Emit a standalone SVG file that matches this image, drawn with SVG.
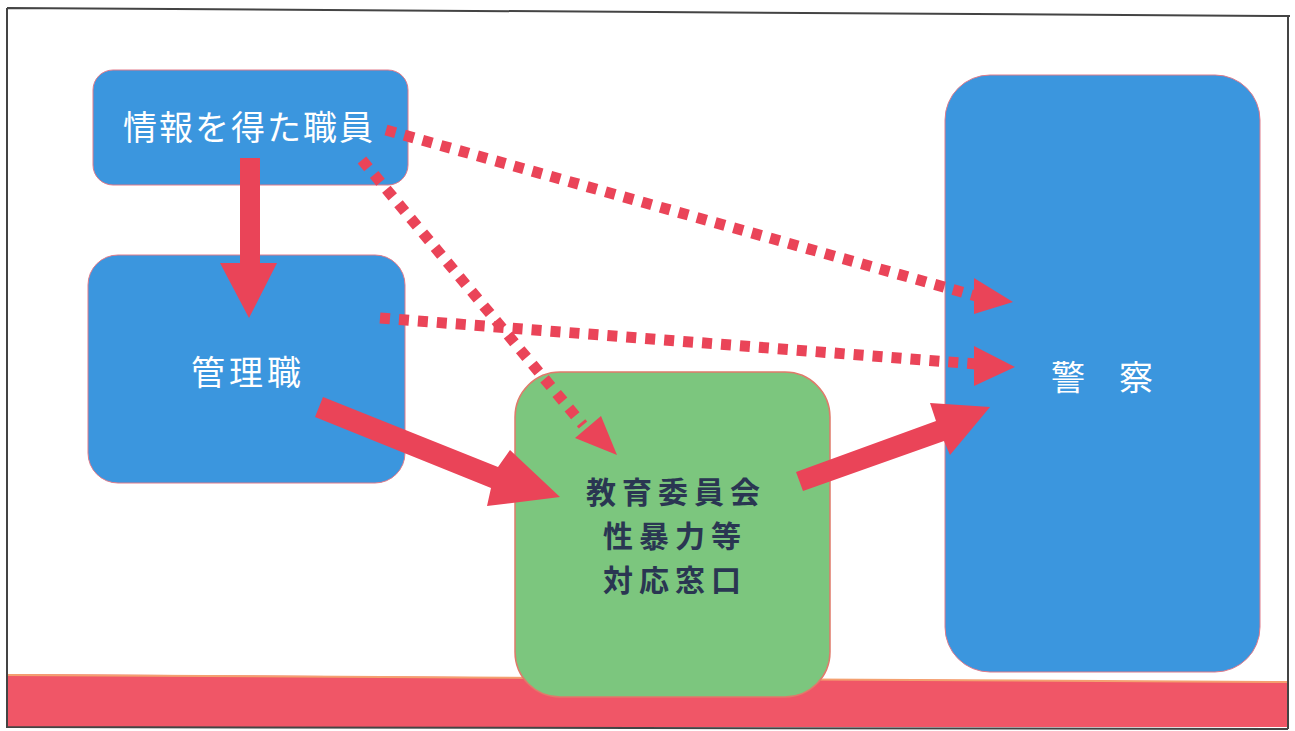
<svg xmlns="http://www.w3.org/2000/svg" width="1295" height="731" viewBox="0 0 1295 731">
<style>
.blue{fill:#3b96de;stroke:#e07a8a;stroke-width:1}
.green{fill:#7cc67e;stroke:#e07a6a;stroke-width:1.5}
.wt{font-family:"Noto Sans CJK JP",sans-serif;fill:#fff;font-size:34px;text-anchor:middle}
.gt{font-family:"Noto Sans CJK JP",sans-serif;fill:#2a3652;font-size:30px;font-weight:bold;text-anchor:middle;letter-spacing:6px}
.solid{fill:#ea4458}
.dot{stroke:#ea4458;stroke-width:11;fill:none;stroke-dasharray:10 9}
</style>
<rect width="1295" height="731" fill="#fff"/>
<polygon points="7,674 1288,682 1288,727 7,727" fill="#f05667"/>
<line x1="7" y1="675" x2="1288" y2="682" stroke="#f4a070" stroke-width="2"/>
<path d="M7,8 L1290,16 M7,8 L7,727 L1288,729 M1288,16 L1288,729" stroke="#444" stroke-width="2" fill="none"/>
<g id="node-staff">
<rect class="blue" x="93" y="70" width="315" height="115" rx="20"/>
<text class="wt" x="249" y="140" letter-spacing="2">情報を得た職員</text>
</g>
<g id="node-manager">
<rect class="blue" x="88" y="255" width="317" height="228" rx="30"/>
<text class="wt" x="248" y="385" letter-spacing="4">管理職</text>
</g>
<g id="node-police">
<rect class="blue" x="945" y="75" width="315" height="597" rx="45"/>
<text class="wt" x="1102" y="390">警　察</text>
</g>
<g id="node-board">
<rect class="green" x="515" y="372" width="315" height="325" rx="45"/>
<text class="gt" x="676" y="503">教育委員会</text>
<text class="gt" x="675" y="547">性暴力等</text>
<text class="gt" x="675" y="591">対応窓口</text>
</g>
<g id="connectors">
<polygon class="solid" points="240,158 260,158 260,263 277,263 249,318 220,263 240,263"/>
<polygon class="solid" points="323,397 498,467 510,450 560,497 487,506 491,488 315,417"/>
<polygon class="solid" points="796,472 936,421 930,403 990,407 950,455 944,441 803,491"/>
<line class="dot" x1="386" y1="130" x2="976" y2="296"/>
<polygon class="solid" points="974,278 1013,302 974,314"/>
<line class="dot" x1="380" y1="318" x2="976" y2="364"/>
<polygon class="solid" points="974,346 1015,367 974,386"/>
<line class="dot" x1="362" y1="160" x2="583" y2="425"/>
<polygon class="solid" points="575,438 601,416 617,455"/>
</g>
</svg>
